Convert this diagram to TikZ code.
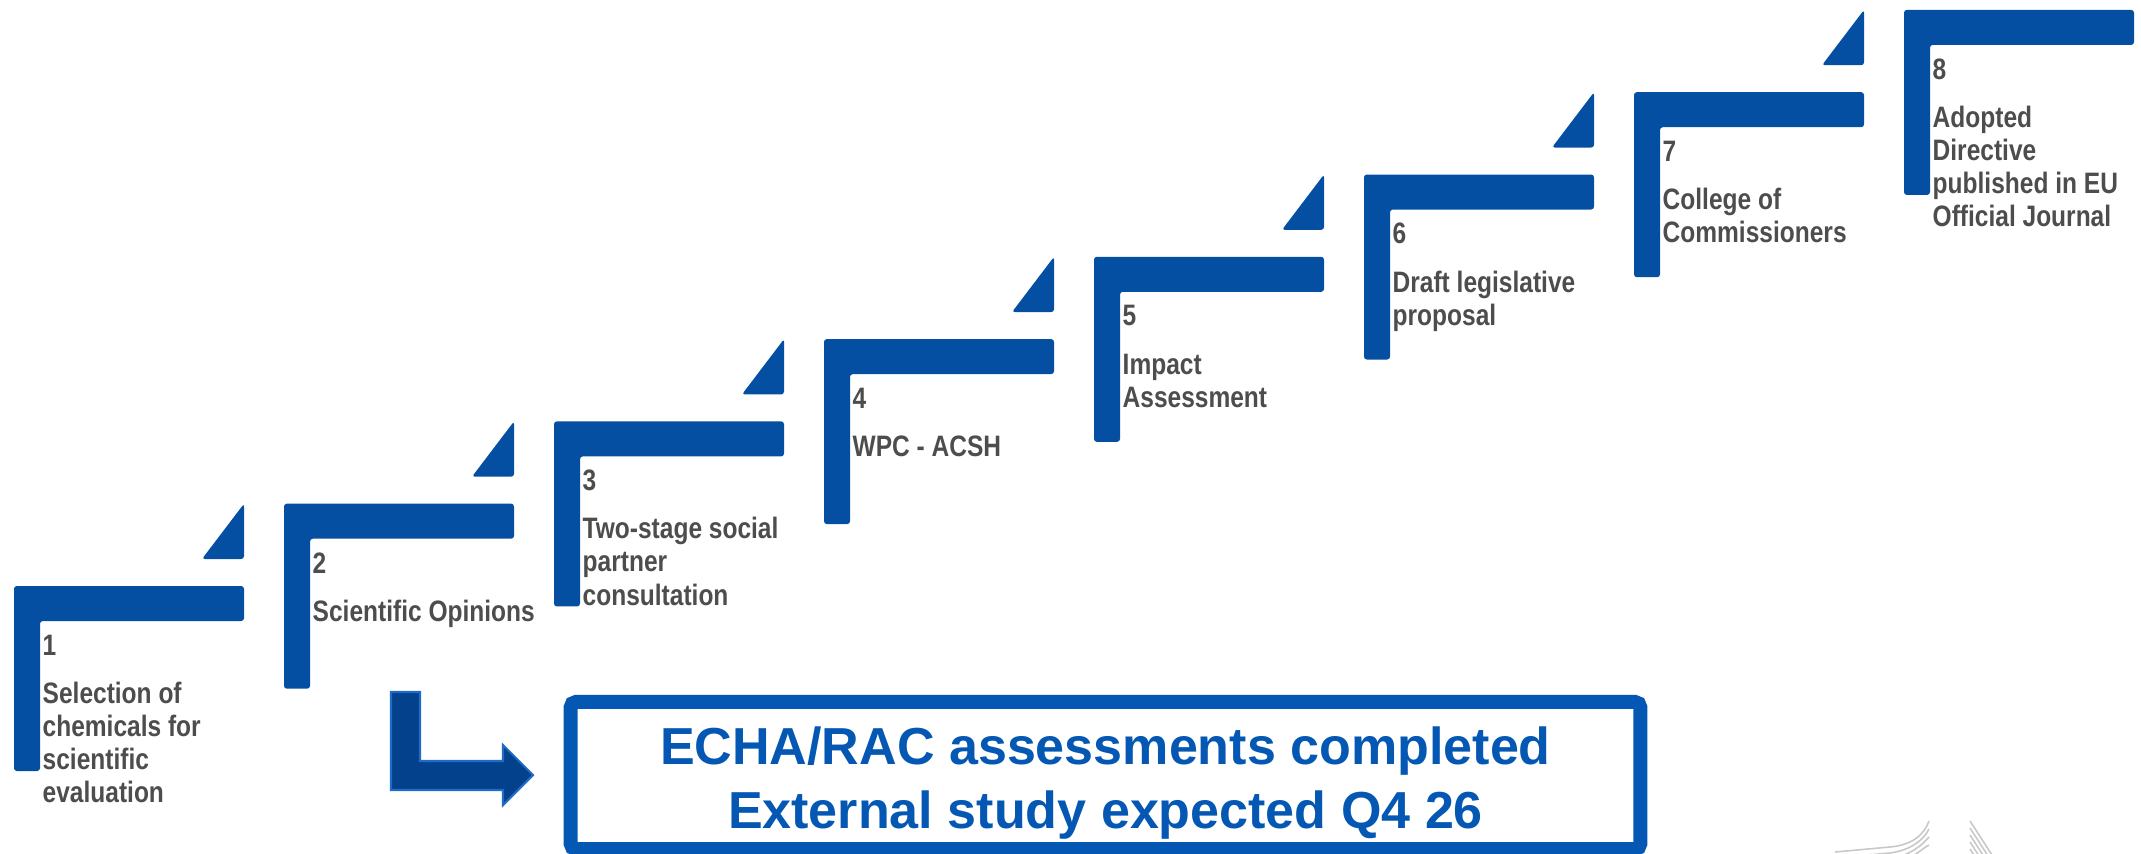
\documentclass[tikz,border=0pt]{standalone}
\usepackage{fontspec}
\setmainfont{Liberation Sans}
\newfontfamily\narrowsans[FakeStretch=0.83]{Liberation Sans}
\usetikzlibrary{positioning}
\definecolor{stepblue}{RGB}{4,79,162}
\definecolor{boxblue}{RGB}{4,87,178}
\definecolor{arrowblue}{RGB}{3,65,140}
\definecolor{arrowedge}{RGB}{30,108,200}
\definecolor{textgray}{RGB}{77,77,77}
\definecolor{logogray}{RGB}{200,200,200}

\begin{document}
\begin{tikzpicture}[x=0.01cm,y=-0.01cm,
  stepbar/.style={fill=stepblue,rounded corners=0.8pt},
  steptext/.style={anchor=north west,inner sep=0pt,align=left,text=textgray,
    font=\narrowsans\bfseries\fontsize{8.4}{9.4}\selectfont},
  echabox/.style={draw=boxblue,line width=3.98pt,rounded corners=1.5pt,
    minimum width=10.69cm,minimum height=1.47cm,inner sep=0pt},
  echatext/.style={text=boxblue,align=center,inner sep=0pt,
    font=\bfseries\fontsize{14.8}{18.2}\selectfont},
  bigarrow/.style={fill=arrowblue,draw=arrowedge,line width=0.6pt},
  logoline/.style={draw=logogray,line width=0.45pt}]
\useasboundingbox (0,0) rectangle (2141,854);

% schody 1..8
\foreach \i/\txt in {1/{Selection of\\chemicals for\\scientific\\evaluation},
                      2/{Scientific Opinions},
                      3/{Two-stage social\\partner\\consultation},
                      4/{WPC - ACSH},
                      5/{Impact\\Assessment},
                      6/{Draft legislative\\proposal},
                      7/{College of\\Commissioners},
                      8/{Adopted\\Directive\\published in EU\\Official Journal}} {
  \pgfmathsetmacro\L{14+270*(\i-1)}
  \pgfmathsetmacro\T{586-82.3*(\i-1)}
  \pgfmathsetmacro\R{\L+230}
  \fill[stepbar] (\L,\T+185) -- (\L,\T) -- (\R,\T) -- (\R,\T+35) -- (\L+26,\T+35) -- (\L+26,\T+185) -- cycle;
  \node[steptext] (step\i) at (\L+28,\T+48) {\i\\[4.3pt]\txt};
  \ifnum\i<8
    \fill[stepbar] (\R,\T-82.3) -- (\R,\T-27) -- (\R-42,\T-27) -- cycle;
  \fi
}

% strzalka do ramki
\draw[bigarrow] (391,692) -- (420,692) -- (420,761) -- (503,761) -- (503,745) -- (533,775)
  -- (503,805) -- (503,790) -- (391,790) -- cycle;

\node[echabox] (echa) at (1105.5,775.5) {};
\node[echatext] (echatxt) at ([yshift=-2.1pt]echa.center) {ECHA/RAC assessments completed\\External study expected Q4 26};

% logo w rogu
\begin{scope}
\clip (0,0) rectangle (2141,854);
\foreach \k in {0,...,3}
  \draw[logoline] (1835,852+6*\k) -- (1890,847+6*\k) .. controls (1912,845+5*\k) and (1924,835+4*\k) .. (1929,821+8*\k);
\foreach \k in {0,...,4}
  \draw[logoline] (1970,821+7*\k) -- +(22,34);
\end{scope}
\end{tikzpicture}
\end{document}
